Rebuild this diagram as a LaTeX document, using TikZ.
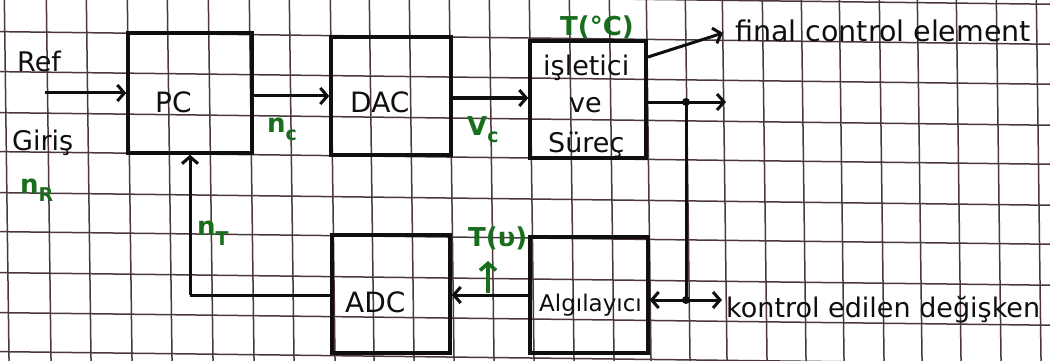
\documentclass[tikz,border=0pt]{standalone}
\usepackage{fontspec}
\setmainfont{DejaVu Sans}
\usetikzlibrary{arrows.meta}
\definecolor{gridc}{RGB}{75,55,60}
\definecolor{pen}{RGB}{15,15,15}
\definecolor{grn}{RGB}{25,110,30}
\newcommand\lowsub[2]{\raisebox{-#1}{\fontsize{19}{19}\selectfont #2}}
\begin{document}
\begin{tikzpicture}[x=1pt,y=-1pt,
  gridl/.style={gridc, line width=1.5pt},
  blk/.style={draw=pen, line width=3.4pt, inner sep=0},
  arr/.style={pen, line width=3pt, -{Straight Barb[length=7pt,width=16pt]}},
  ln/.style={pen, line width=3pt},
  txt/.style={inner sep=0, anchor=base west, text=pen, font=\fontsize{27}{30}\selectfont},
  captxt/.style={inner sep=0, anchor=base west, text=pen, font=\fontsize{28}{30}\selectfont},
  glab/.style={inner sep=0, anchor=base west, text=grn, font=\bfseries\fontsize{26}{28}\selectfont},
  jdot/.style={circle, fill=pen, inner sep=0, minimum size=8pt}]
\useasboundingbox (0,0) rectangle (1050,361);
\fill[white] (0,0) rectangle (1050,361);
% grid paper
\foreach \c in {-8,32,72,113,152,193,232,273,313,352}
  \draw[gridl] (0,\c-0.36) -- (1050,\c+12.24);
\foreach \d in {5,47,87,128,168,209,250,290,331,370,410,450,490,530,570,610,647,686,723,763,802,840,880,918,957,997,1037}
  \draw[gridl] (\d-0.65,0) -- (\d+4.04,361);
% blocks
\node[blk, minimum width=124pt, minimum height=120pt] (PC) at (190,93) {};
\node[blk, minimum width=120pt, minimum height=118pt] (DAC) at (391,96) {};
\node[blk, minimum width=116pt, minimum height=117pt] (P) at (588,99.5) {};
\node[blk, minimum width=118pt, minimum height=118pt] (ADC) at (391,294) {};
\node[blk, minimum width=118pt, minimum height=116pt] (S) at (589,295) {};
% block texts
\node[captxt] (tPC) at (155,112) {PC};
\node[captxt] (tDAC) at (350,113) {DAC};
\node[txt] (tP1) at (543,75) {işletici};
\node[txt] (tP2) at (569,113) {ve};
\node[txt] (tP3) at (548,152) {Süreç};
\node[captxt] (tADC) at (345,312) {ADC};
\node[txt, font=\fontsize{23}{26}\selectfont] (tS) at (539,311) {Algılayıcı};
% side texts
\node[txt] (ref) at (17,72) {Ref};
\node[txt] (gir) at (12,150) {Giriş};
\node[txt, font=\fontsize{28.5}{30}\selectfont] (fce) at (735,42) {final control element};
\node[txt] (ked) at (726,317) {kontrol edilen değişken};
% green labels
\node[glab] (nR) at (20,193) {n\lowsub{8pt}{R}};
\node[glab] (nC) at (267,132) {n\lowsub{8pt}{c}};
\node[glab] (Vc) at (467,135) {V\lowsub{8pt}{c}};
\node[glab] (nT) at (197,235) {n\lowsub{10pt}{T}};
\node[glab] (TC) at (560,36) {T(°C)};
\node[glab] (Tv) at (468,246) {T(υ)};
% coordinates
\coordinate (inS) at (45,93);
\coordinate (jn) at (686,102);
\coordinate (js) at (686,300);
\coordinate (outE) at (726,102);
\coordinate (kedS) at (722,300);
\coordinate (fceT) at (648,57);
\coordinate (fceH) at (723,33);
\coordinate (corner) at (190,295);
\coordinate (gT) at (488,293);
\coordinate (gH) at (488,261);
% connectors
\draw[arr] (inS) -- (PC.west |- inS);
\draw[arr] (PC.east |- 0,96) -- (DAC.west |- 0,96);
\draw[arr] (DAC.east |- 0,98) -- (P.west |- 0,98);
\draw[ln] (P.east |- jn) -- (jn);
\draw[arr] (jn) -- (outE);
\draw[arr] (fceT) -- (fceH);
\draw[ln] (jn) -- (js);
\draw[arr] (js) -- (S.east |- js);
\draw[arr] (js) -- (kedS);
\draw[arr] (S.west |- corner) -- (ADC.east |- corner);
\draw[ln] (ADC.west |- corner) -- (corner);
\draw[arr] (corner) -- (PC.south);
\draw[grn, line width=3.6pt, -{Straight Barb[length=7pt,width=16pt]}] (gT) -- (gH);
\node[jdot] (d1) at (jn) {};
\node[jdot] (d2) at (js) {};
\end{tikzpicture}
\end{document}
